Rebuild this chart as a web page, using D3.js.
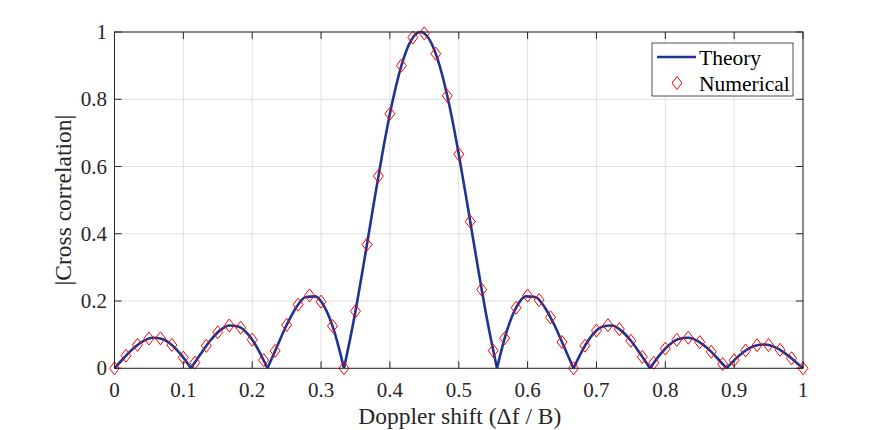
<!DOCTYPE html>
<html>
<head>
<meta charset="utf-8">
<script src="https://cdn.jsdelivr.net/npm/d3@7"></script>
<style>
  html, body { margin: 0; padding: 0; background: #fff; }
  svg { display: block; font-family: "Liberation Serif", "Times New Roman", serif; }
</style>
</head>
<body>
<svg id="chart" width="888" height="430"></svg>
<script>
// ---- data ----
const xTicks = [0, 0.1, 0.2, 0.3, 0.4, 0.5, 0.6, 0.7, 0.8, 0.9, 1];
const xTickLabels = ["0", "0.1", "0.2", "0.3", "0.4", "0.5", "0.6", "0.7", "0.8", "0.9", "1"];
const yTicks = [0, 0.2, 0.4, 0.6, 0.8, 1];
const yTickLabels = ["0", "0.2", "0.4", "0.6", "0.8", "1"];

// Theory curve
const theoryX = [0.0000, 0.0139, 0.0278, 0.0417, 0.0556, 0.0694, 0.0833, 0.0972, 0.1111,
  0.1250, 0.1389, 0.1528, 0.1667, 0.1806, 0.1944, 0.2083, 0.2222,
  0.2361, 0.2500, 0.2639, 0.2778, 0.2917, 0.3056, 0.3194, 0.3333,
  0.3472, 0.3611, 0.3750, 0.3889, 0.4028, 0.4167, 0.4306, 0.4444,
  0.4583, 0.4722, 0.4861, 0.5000, 0.5139, 0.5278, 0.5417, 0.5556,
  0.5694, 0.5833, 0.5972, 0.6111, 0.6250, 0.6389, 0.6528, 0.6667,
  0.6806, 0.6944, 0.7083, 0.7222, 0.7361, 0.7500, 0.7639, 0.7778,
  0.7917, 0.8056, 0.8194, 0.8333, 0.8472, 0.8611, 0.8750, 0.8889,
  0.9028, 0.9167, 0.9306, 0.9444, 0.9583, 0.9722, 0.9861, 1.0000];
const theoryY = [0, 0.0314, 0.0600, 0.0811, 0.0909, 0.0871, 0.0693, 0.0390, 0,
  0.0424, 0.0818, 0.1120, 0.1273, 0.1238, 0.1000, 0.0573, 0,
  0.0650, 0.1286, 0.1810, 0.2122, 0.2139, 0.1801, 0.1083, 0,
  0.1392, 0.3001, 0.4705, 0.6366, 0.7842, 0.9003, 0.9745, 1,
  0.9745, 0.9003, 0.7842, 0.6366, 0.4705, 0.3001, 0.1392, 0,
  0.1083, 0.1801, 0.2139, 0.2122, 0.1810, 0.1286, 0.0650, 0,
  0.0573, 0.1000, 0.1238, 0.1273, 0.1120, 0.0818, 0.0424, 0,
  0.0390, 0.0693, 0.0871, 0.0909, 0.0811, 0.0600, 0.0314, 0,
  0.0295, 0.0530, 0.0672, 0.0707, 0.0636, 0.0474, 0.0250, 0];

// Numerical samples
const numX = [0.0000, 0.0167, 0.0333, 0.0500, 0.0667, 0.0833, 0.1000, 0.1167, 0.1333, 0.1500,
  0.1667, 0.1833, 0.2000, 0.2167, 0.2333, 0.2500, 0.2667, 0.2833, 0.3000, 0.3167,
  0.3333, 0.3500, 0.3667, 0.3833, 0.4000, 0.4167, 0.4333, 0.4500, 0.4667, 0.4833,
  0.5000, 0.5167, 0.5333, 0.5500, 0.5667, 0.5833, 0.6000, 0.6167, 0.6333, 0.6500,
  0.6667, 0.6833, 0.7000, 0.7167, 0.7333, 0.7500, 0.7667, 0.7833, 0.8000, 0.8167,
  0.8333, 0.8500, 0.8667, 0.8833, 0.9000, 0.9167, 0.9333, 0.9500, 0.9667, 0.9833, 1.0000];
const numY = [0, 0.0375, 0.0696, 0.0886, 0.0890, 0.0693, 0.0317, 0.0169, 0.0668, 0.1070,
  0.1273, 0.1207, 0.0850, 0.0243, 0.0518, 0.1286, 0.1892, 0.2168, 0.1981, 0.1257,
  0, 0.1700, 0.3679, 0.5716, 0.7569, 0.9003, 0.9836, 0.9959, 0.9355, 0.8103,
  0.6366, 0.4363, 0.2339, 0.0524, 0.0894, 0.1801, 0.2162, 0.2029, 0.1515, 0.0781,
  0, 0.0672, 0.1120, 0.1283, 0.1164, 0.0818, 0.0339, 0.0163, 0.0585, 0.0847,
  0.0909, 0.0777, 0.0492, 0.0126, 0.0240, 0.0530, 0.0688, 0.0691, 0.0548, 0.0298, 0];

const seriesNames = ["Theory", "Numerical"];
const xLabel = "Doppler shift (\u0394f / B)";
const yLabel = "|Cross correlation|";

// ---- layout ----
const L = 114.5, R = 803, T = 32, B = 368.3;
const lineColor = "#1d3490", markColor = "#ff0000";

const svg = d3.select("#chart");
svg.append("rect").attr("width", 888).attr("height", 430).attr("fill", "#fff");

const x = d3.scaleLinear().domain([0, 1]).range([L, R]);
const y = d3.scaleLinear().domain([0, 1]).range([B, T]);

// grid
const grid = svg.append("g");
grid.selectAll("line.gx").data(xTicks).join("line")
  .attr("x1", d => x(d)).attr("x2", d => x(d)).attr("y1", T).attr("y2", B)
  .attr("stroke", "#e0e0e0").attr("stroke-width", 1);
grid.selectAll("line.gy").data(yTicks).join("line")
  .attr("y1", d => y(d)).attr("y2", d => y(d)).attr("x1", L).attr("x2", R)
  .attr("stroke", "#e0e0e0").attr("stroke-width", 1);

// theory line, split into lobes at zeros
const pts = theoryX.map((v, i) => [v, theoryY[i]]);
const lobes = [];
let cur = [pts[0]];
for (let i = 1; i < pts.length; i++) {
  cur.push(pts[i]);
  if (pts[i][1] === 0 && i < pts.length - 1) { lobes.push(cur); cur = [pts[i]]; }
}
lobes.push(cur);
const line = d3.line().x(d => x(d[0])).y(d => y(d[1])).curve(d3.curveMonotoneX);
svg.append("g").selectAll("path").data(lobes).join("path")
  .attr("d", line).attr("fill", "none").attr("stroke", lineColor)
  .attr("stroke-width", 2.6).attr("stroke-linejoin", "round");

// markers
const diamond = (cx, cy, w, h) => `M${cx},${cy - h}L${cx + w},${cy}L${cx},${cy + h}L${cx - w},${cy}Z`;
svg.append("g").selectAll("path").data(numX.map((v, i) => [v, numY[i]])).join("path")
  .attr("d", d => diamond(x(d[0]), y(d[1]), 5, 6.5))
  .attr("fill", "none").attr("stroke", markColor).attr("stroke-width", 1);

// axes box and ticks
const ax = svg.append("g").attr("stroke", "#262626").attr("stroke-width", 1);
ax.append("rect").attr("x", L).attr("y", T).attr("width", R - L).attr("height", B - T).attr("fill", "none");
const tl = 7;
xTicks.forEach(v => {
  ax.append("line").attr("x1", x(v)).attr("x2", x(v)).attr("y1", B).attr("y2", B - tl);
  ax.append("line").attr("x1", x(v)).attr("x2", x(v)).attr("y1", T).attr("y2", T + tl);
});
yTicks.forEach(v => {
  ax.append("line").attr("y1", y(v)).attr("y2", y(v)).attr("x1", L).attr("x2", L + tl);
  ax.append("line").attr("y1", y(v)).attr("y2", y(v)).attr("x1", R).attr("x2", R - tl);
});

// tick labels
svg.append("g").selectAll("text").data(xTicks).join("text")
  .attr("x", d => x(d)).attr("y", 396.5).attr("text-anchor", "middle")
  .attr("font-size", 21).attr("fill", "#262626").text((d, i) => xTickLabels[i]);
svg.append("g").selectAll("text").data(yTicks).join("text")
  .attr("x", 107).attr("y", d => y(d)).attr("dy", "0.34em").attr("text-anchor", "end")
  .attr("font-size", 21).attr("fill", "#262626").text((d, i) => yTickLabels[i]);

// axis labels
svg.append("text").attr("x", (L + R) / 2 + 1).attr("y", 423.5).attr("text-anchor", "middle")
  .attr("font-size", 23.5).attr("fill", "#262626").text(xLabel);
svg.append("text").attr("transform", `translate(71,${(T + B) / 2}) rotate(-90)`)
  .attr("text-anchor", "middle").attr("font-size", 23.5).attr("fill", "#262626").text(yLabel);

// legend
const lg = svg.append("g");
lg.append("rect").attr("x", 652).attr("y", 43).attr("width", 141).attr("height", 53)
  .attr("fill", "#fff").attr("stroke", "#262626").attr("stroke-width", 0.8);
lg.append("line").attr("x1", 657).attr("x2", 696).attr("y1", 57).attr("y2", 57)
  .attr("stroke", lineColor).attr("stroke-width", 2.6);
lg.append("path").attr("d", diamond(677, 83, 5, 6.5)).attr("fill", "none")
  .attr("stroke", markColor).attr("stroke-width", 1);
lg.selectAll("text").data(seriesNames).join("text")
  .attr("x", 699).attr("y", (d, i) => 57 + i * 26).attr("dy", "0.35em")
  .attr("font-size", 21.5).attr("fill", "#000").text(d => d);
</script>
</body>
</html>
